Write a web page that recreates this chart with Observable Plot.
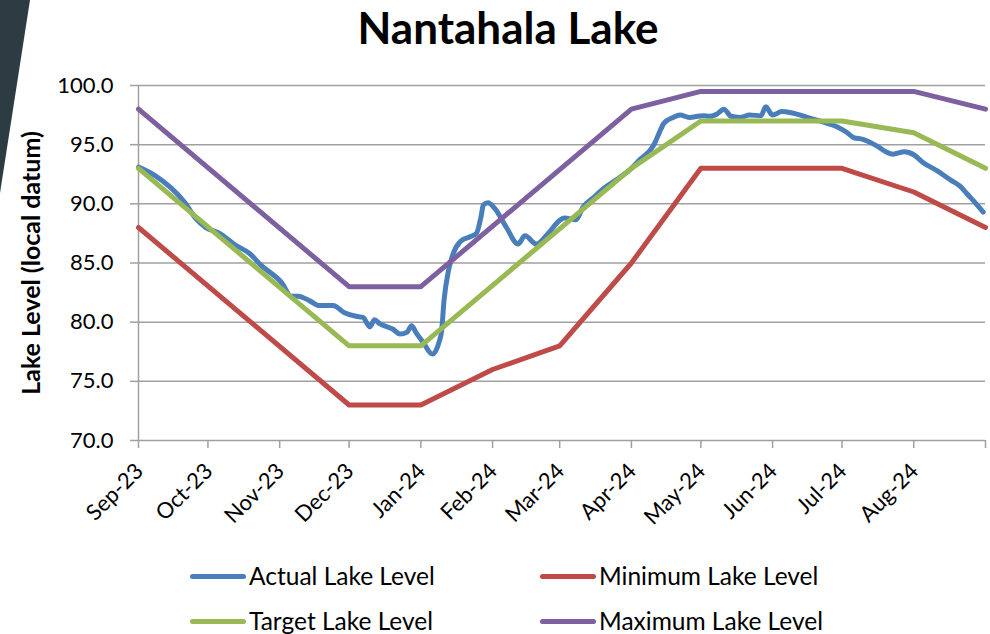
<!DOCTYPE html>
<html><head><meta charset="utf-8">
<script src="https://cdn.jsdelivr.net/npm/d3@7"></script>
<script src="https://cdn.jsdelivr.net/npm/@observablehq/plot@0.6"></script>
<style>
body{margin:0;background:#fff;font-family:Lato,sans-serif}
#wrap{position:relative;width:990px;height:634px;overflow:hidden;background:#fff}
#deco{position:absolute;left:0;top:0;width:32px;height:195px;background:#2d3b43;clip-path:polygon(0 0,30px 0,0 193px)}
#title{position:absolute;top:0px;left:0;width:1016px;text-align:center;font-weight:bold;font-size:44px;line-height:54px;color:#000}
#chart{position:absolute;left:0;top:0}
.leg{position:absolute;font-size:24.5px;line-height:28px;display:flex;align-items:center;white-space:nowrap;color:#000}
.sw{width:56px;height:5px;border-radius:3px;margin-right:3px}
svg [aria-label="y-axis label"] text{font-weight:bold;font-size:25px}
</style></head><body>
<div id="wrap">
<div id="deco"></div>
<div id="chart"></div>
<div id="title">Nantahala Lake</div>
<div id="legend"></div>
</div>
<script>
// ---- data ----
const chartTitle = "Nantahala Lake";
const yLabel = "Lake Level (local datum)";
const yTicks = [70, 75, 80, 85, 90, 95, 100];
const monthTicks = ["2023-09-01","2023-10-01","2023-11-01","2023-12-01","2024-01-01","2024-02-01","2024-03-01","2024-04-01","2024-05-01","2024-06-01","2024-07-01","2024-08-01","2024-09-01"];

const actualDates = ["2023-09-01","2023-09-08","2023-09-21","2023-09-26","2023-09-30","2023-10-06","2023-10-13","2023-10-19","2023-10-24","2023-11-02","2023-11-06","2023-11-09","2023-11-14","2023-11-18","2023-11-24","2023-11-29","2023-12-04","2023-12-07","2023-12-10","2023-12-12","2023-12-14","2023-12-20","2023-12-23","2023-12-26","2023-12-28","2023-12-30","2024-01-02","2024-01-06","2024-01-09","2024-01-10","2024-01-11","2024-01-13","2024-01-15","2024-01-18","2024-01-22","2024-01-25","2024-01-27","2024-01-28","2024-01-30","2024-02-02","2024-02-07","2024-02-12","2024-02-15","2024-02-20","2024-02-25","2024-03-01","2024-03-03","2024-03-08","2024-03-11","2024-03-16","2024-03-20","2024-03-26","2024-04-01","2024-04-05","2024-04-09","2024-04-11","2024-04-13","2024-04-15","2024-04-19","2024-04-22","2024-04-26","2024-05-02","2024-05-05","2024-05-08","2024-05-11","2024-05-14","2024-05-18","2024-05-22","2024-05-27","2024-05-29","2024-06-01","2024-06-05","2024-06-09","2024-06-13","2024-06-17","2024-06-23","2024-06-29","2024-07-03","2024-07-06","2024-07-10","2024-07-16","2024-07-20","2024-07-23","2024-07-28","2024-08-01","2024-08-05","2024-08-11","2024-08-17","2024-08-21","2024-08-24","2024-08-28","2024-08-31"];
const actualLevels = [93.1,92.4,90.1,88.7,88.0,87.5,86.5,85.8,84.8,83.3,82.2,82.2,81.8,81.4,81.4,80.8,80.5,80.4,79.6,80.2,79.9,79.4,79.0,79.15,79.7,79.1,78.3,77.3,78.4,79.3,81.8,84.4,85.8,86.8,87.2,87.5,88.9,89.9,90.1,89.6,88.0,86.6,87.3,86.6,87.5,88.6,88.8,88.65,89.7,90.6,91.3,92.1,93.0,93.8,94.5,95.1,96.0,96.8,97.3,97.5,97.3,97.45,97.4,97.6,98.0,97.4,97.3,97.5,97.45,98.2,97.5,97.8,97.7,97.5,97.25,96.9,96.5,96.05,95.6,95.45,94.9,94.4,94.2,94.4,94.15,93.5,92.8,92.0,91.5,90.85,90.0,89.3];

const minimumDates = ["2023-09-01","2023-12-01","2024-01-01","2024-02-01","2024-03-01","2024-04-01","2024-05-01","2024-07-01","2024-08-01","2024-09-01"];
const minimumLevels = [88,73,73,76,78,85,93,93,91,88];

const targetDates = ["2023-09-01","2023-12-01","2024-01-01","2024-04-01","2024-05-01","2024-07-01","2024-08-01","2024-09-01"];
const targetLevels = [93,78,78,93,97,97,96,93];

const maximumDates = ["2023-09-01","2023-12-01","2024-01-01","2024-04-01","2024-05-01","2024-08-01","2024-09-01"];
const maximumLevels = [98,83,83,98,99.5,99.5,98];

const seriesNames = ["Actual Lake Level","Minimum Lake Level","Target Lake Level","Maximum Lake Level"];
const seriesColors = ["#4A7EBB","#BE4B48","#98B954","#7D60A0"];

// ---- build ----
const toRows = (ds, vs) => ds.map((d, i) => ({date: new Date(d), value: vs[i]}));
const series = [
  toRows(actualDates, actualLevels),
  toRows(minimumDates, minimumLevels),
  toRows(targetDates, targetLevels),
  toRows(maximumDates, maximumLevels)
];
const ticks = monthTicks.map(d => new Date(d));
const lastTick = ticks[ticks.length - 1];
const fmt = d3.utcFormat("%b-%y");
const grid = "#a0a0a0";

document.getElementById("title").textContent = chartTitle;

const chart = Plot.plot({
  width: 990, height: 545,
  marginLeft: 138, marginRight: 5, marginTop: 85, marginBottom: 105,
  style: {fontFamily: "Lato", fontSize: "22px", color: "#000", background: "transparent", overflow: "visible"},
  x: {type: "utc", domain: [ticks[0], lastTick]},
  y: {domain: [70, 100]},
  marks: [
    Plot.ruleY(yTicks, {stroke: grid, strokeWidth: 1.5}),
    Plot.ruleX([ticks[0]], {stroke: grid, strokeWidth: 1.5}),
    Plot.axisY({ticks: yTicks, tickFormat: d => d.toFixed(1), tickSize: 8, tickPadding: 17, stroke: grid, strokeWidth: 1.5,
      label: yLabel, labelAnchor: "center", labelArrow: "none", labelOffset: 116}),
    Plot.axisX({ticks: ticks, tickSize: 8, stroke: grid, strokeWidth: 1.5, text: null, label: null}),
    Plot.axisX({ticks: ticks, tickFormat: d => +d === +lastTick ? "" : fmt(d), tickSize: 0, tickPadding: 11,
      tickRotate: -45, dx: 1, dy: 16, label: null}),
    ...series.map((rows, i) => Plot.line(rows, {x: "date", y: "value", stroke: seriesColors[i], strokeWidth: 5,
      curve: i === 0 ? "monotone-x" : "linear", strokeLinejoin: "round", strokeLinecap: "round"}))
  ]
});
document.getElementById("chart").appendChild(chart);

// legend
const legPos = [[190, 562], [540, 562], [190, 607], [540, 607]];
const legend = document.getElementById("legend");
seriesNames.forEach((name, i) => {
  const el = document.createElement("div");
  el.className = "leg";
  el.style.left = legPos[i][0] + "px";
  el.style.top = legPos[i][1] + "px";
  el.innerHTML = `<span class="sw" style="background:${seriesColors[i]}"></span><span>${name}</span>`;
  legend.appendChild(el);
});
</script>
</body></html>
